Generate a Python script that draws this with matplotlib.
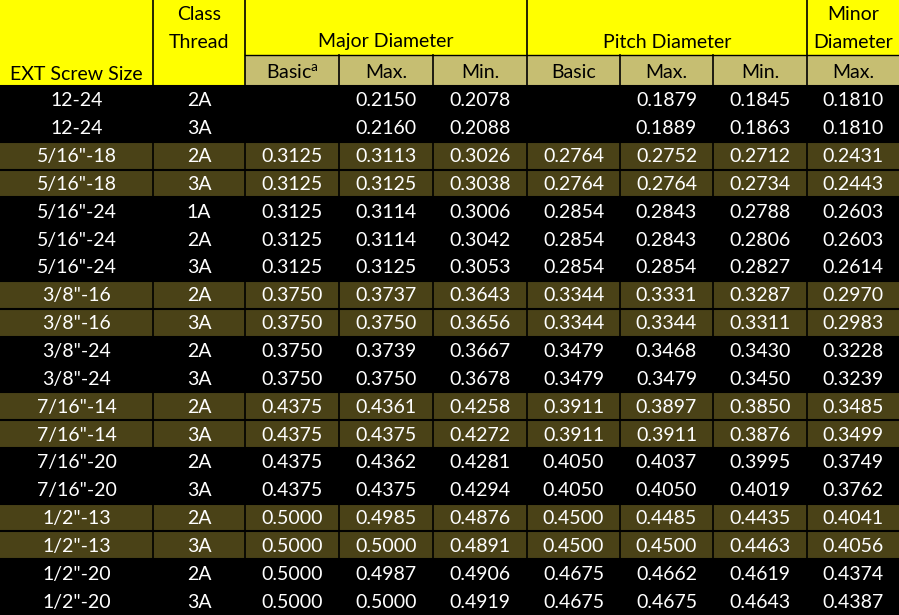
import matplotlib.pyplot as plt
from matplotlib.patches import Rectangle

plt.rcParams['font.family'] = ['Lato', 'DejaVu Sans']
plt.rcParams['mathtext.fontset'] = 'custom'
plt.rcParams['mathtext.rm'] = 'Lato'

sizes = ['12-24', '12-24', '5/16"-18', '5/16"-18', '5/16"-24', '5/16"-24', '5/16"-24',
         '3/8"-16', '3/8"-16', '3/8"-24', '3/8"-24', '7/16"-14', '7/16"-14',
         '7/16"-20', '7/16"-20', '1/2"-13', '1/2"-13', '1/2"-20', '1/2"-20']
classes = ['2A', '3A', '2A', '3A', '1A', '2A', '3A', '2A', '3A', '2A', '3A',
           '2A', '3A', '2A', '3A', '2A', '3A', '2A', '3A']
major_basic = [None, None, 0.3125, 0.3125, 0.3125, 0.3125, 0.3125, 0.3750, 0.3750, 0.3750,
               0.3750, 0.4375, 0.4375, 0.4375, 0.4375, 0.5000, 0.5000, 0.5000, 0.5000]
major_max = [0.2150, 0.2160, 0.3113, 0.3125, 0.3114, 0.3114, 0.3125, 0.3737, 0.3750, 0.3739,
             0.3750, 0.4361, 0.4375, 0.4362, 0.4375, 0.4985, 0.5000, 0.4987, 0.5000]
major_min = [0.2078, 0.2088, 0.3026, 0.3038, 0.3006, 0.3042, 0.3053, 0.3643, 0.3656, 0.3667,
             0.3678, 0.4258, 0.4272, 0.4281, 0.4294, 0.4876, 0.4891, 0.4906, 0.4919]
pitch_basic = [None, None, 0.2764, 0.2764, 0.2854, 0.2854, 0.2854, 0.3344, 0.3344, 0.3479,
               0.3479, 0.3911, 0.3911, 0.4050, 0.4050, 0.4500, 0.4500, 0.4675, 0.4675]
pitch_max = [0.1879, 0.1889, 0.2752, 0.2764, 0.2843, 0.2843, 0.2854, 0.3331, 0.3344, 0.3468,
             0.3479, 0.3897, 0.3911, 0.4037, 0.4050, 0.4485, 0.4500, 0.4662, 0.4675]
pitch_min = [0.1845, 0.1863, 0.2712, 0.2734, 0.2788, 0.2806, 0.2827, 0.3287, 0.3311, 0.3430,
             0.3450, 0.3850, 0.3876, 0.3995, 0.4019, 0.4435, 0.4463, 0.4619, 0.4643]
minor_max = [0.1810, 0.1810, 0.2431, 0.2443, 0.2603, 0.2603, 0.2614, 0.2970, 0.2983, 0.3228,
             0.3239, 0.3485, 0.3499, 0.3749, 0.3762, 0.4041, 0.4056, 0.4374, 0.4387]
sub_headers = ['Basic$^{\\rm a}$', 'Max.', 'Min.', 'Basic', 'Max.', 'Min.', 'Max.']
groups = [('Major Diameter', 2, 5), ('Pitch Diameter', 5, 8), ('Minor\nDiameter', 8, 9)]

YELLOW = '#ffff00'
KHAKI = '#c6be72'
OLIVE = '#4a4217'
W, H = 899, 615
col_x = [0, 153, 245, 339, 433, 527, 620, 713, 807, 899]
h1, h2 = 55, 86
fs = 14

fig = plt.figure(figsize=(W / 100, H / 100), dpi=100)
ax = fig.add_axes([0, 0, 1, 1])
ax.set_xlim(0, W)
ax.set_ylim(H, 0)
ax.axis('off')

n = len(sizes)
rh = (H - h2) / n

# header backgrounds
ax.add_patch(Rectangle((0, 0), W, h2, color=YELLOW, lw=0))
ax.add_patch(Rectangle((col_x[2], h1), W - col_x[2], h2 - h1, color=KHAKI, lw=0))

def cx(i):
    return (col_x[i] + col_x[i + 1]) / 2

ax.text(cx(0), 74, 'EXT Screw Size', ha='center', va='center', fontsize=fs)
ax.text(cx(1), 15, 'Class', ha='center', va='center', fontsize=fs)
ax.text(cx(1), 42, 'Thread', ha='center', va='center', fontsize=fs)
for label, a, b in groups:
    xm = (col_x[a] + col_x[b]) / 2
    if '\n' in label:
        top, bot = label.split('\n')
        ax.text(xm, 15, top, ha='center', va='center', fontsize=fs)
        ax.text(xm, 42, bot, ha='center', va='center', fontsize=fs)
    else:
        ax.text(xm, 42, label, ha='center', va='center', fontsize=fs)
for j, s in enumerate(sub_headers):
    ax.text(cx(j + 2), 73, s, ha='center', va='center', fontsize=fs)

# data rows
cols = [major_basic, major_max, major_min, pitch_basic, pitch_max, pitch_min, minor_max]
g = 0
for i in range(n):
    if i > 0 and sizes[i] != sizes[i - 1]:
        g += 1
    y0 = h2 + i * rh
    bg = 'black' if g % 2 == 0 else OLIVE
    ax.add_patch(Rectangle((0, y0), W, rh, color=bg, lw=0))
    yc = y0 + rh / 2 + 1
    ax.text(cx(0), yc, sizes[i], ha='center', va='center', fontsize=fs, color='white')
    ax.text(cx(1), yc, classes[i], ha='center', va='center', fontsize=fs, color='white')
    for j, c in enumerate(cols):
        if c[i] is not None:
            ax.text(cx(j + 2), yc, f'{c[i]:.4f}', ha='center', va='center',
                    fontsize=fs, color='white')
    ax.plot([0, W], [y0, y0], color='black', lw=1.5)

# grid lines
for k, x in enumerate(col_x[1:-1], start=1):
    top = 0
    if k in (3, 4, 6, 7):
        top = h1
    ax.plot([x, x], [top, H], color='black', lw=1.2)
ax.plot([col_x[2], W], [h1, h1], color='black', lw=1.0)

fig.savefig('out.png', dpi=100)
